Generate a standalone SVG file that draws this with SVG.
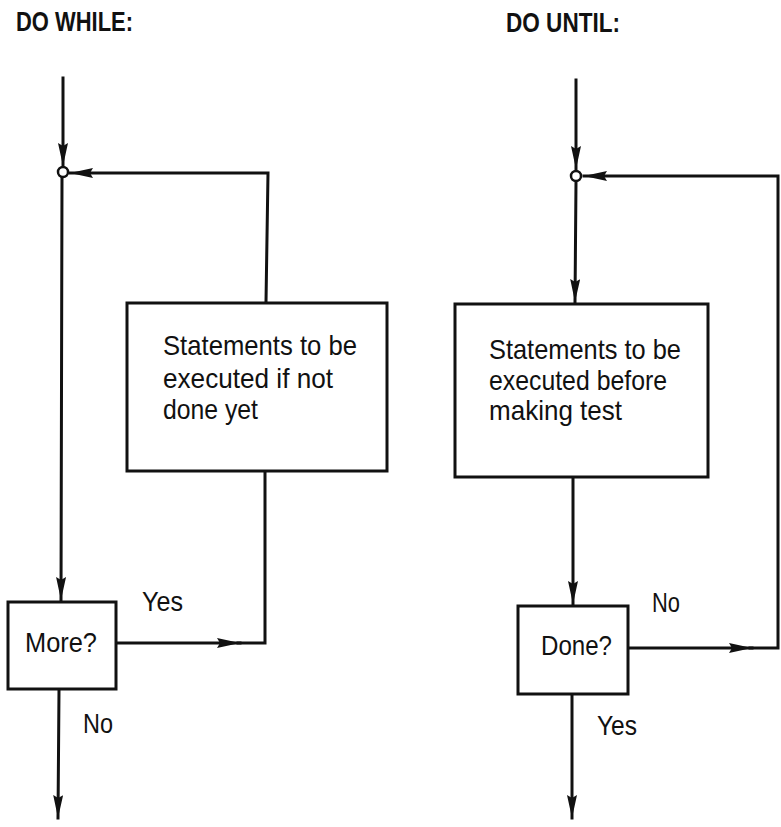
<svg xmlns="http://www.w3.org/2000/svg" width="781" height="827" viewBox="0 0 781 827">
<style>
  .ln { fill: none; stroke: #111; stroke-width: 3; stroke-linecap: square; }
  .box { fill: #fff; stroke: #111; stroke-width: 3; }
  .jn { fill: #fff; stroke: #111; stroke-width: 2.5; }
  .t { font-family: "Liberation Sans", Arial, sans-serif; font-size: 28px; fill: #111; }
  .title { font-family: "Liberation Sans", Arial, sans-serif; font-size: 27px; font-weight: bold; fill: #111; }
</style>
<defs>
  <marker id="arr" markerUnits="userSpaceOnUse" markerWidth="24" markerHeight="10" refX="23" refY="5" orient="auto">
    <path d="M0,0 L23,5 L0,10 L3,5 z" fill="#111"/>
  </marker>
</defs>

<text class="title" x="16" y="31" textLength="117" lengthAdjust="spacingAndGlyphs">DO WHILE:</text>
<text class="title" x="506" y="32" textLength="114" lengthAdjust="spacingAndGlyphs">DO UNTIL:</text>

<g id="connectors">
  <!-- DO WHILE -->
  <line class="ln" x1="63" y1="78" x2="63" y2="166" marker-end="url(#arr)"/>
  <line class="ln" x1="62" y1="178" x2="61" y2="600" marker-end="url(#arr)"/>
  <polyline class="ln" points="266,302 268,173 70,173" marker-end="url(#arr)"/>
  <line class="ln" x1="116" y1="643" x2="240" y2="643" marker-end="url(#arr)"/>
  <polyline class="ln" points="238,643 265,643 265,472"/>
  <line class="ln" x1="59" y1="690" x2="58" y2="818" marker-end="url(#arr)"/>
  <!-- DO UNTIL -->
  <line class="ln" x1="576" y1="80" x2="576" y2="169" marker-end="url(#arr)"/>
  <line class="ln" x1="576" y1="182" x2="575" y2="302" marker-end="url(#arr)"/>
  <line class="ln" x1="573" y1="478" x2="573" y2="604" marker-end="url(#arr)"/>
  <line class="ln" x1="628" y1="648" x2="752" y2="648" marker-end="url(#arr)"/>
  <polyline class="ln" points="750,648 778,648 778,176 584,176" marker-end="url(#arr)"/>
  <line class="ln" x1="572" y1="695" x2="572" y2="818" marker-end="url(#arr)"/>
</g>

<g id="junction-while"><circle class="jn" cx="63" cy="172" r="5"/></g>
<g id="junction-until"><circle class="jn" cx="576" cy="176" r="5"/></g>

<g id="body-while">
  <rect class="box" x="127" y="303" width="260" height="168"/>
  <text class="t" x="163" y="355" textLength="194" lengthAdjust="spacingAndGlyphs">Statements to be</text>
  <text class="t" x="163" y="388" textLength="170" lengthAdjust="spacingAndGlyphs">executed if not</text>
  <text class="t" x="163" y="419" textLength="95" lengthAdjust="spacingAndGlyphs">done yet</text>
</g>

<g id="test-while">
  <rect class="box" x="8" y="602" width="108" height="87"/>
  <text class="t" x="25" y="652" textLength="72" lengthAdjust="spacingAndGlyphs">More?</text>
</g>

<g id="body-until">
  <rect class="box" x="455" y="304" width="253" height="173"/>
  <text class="t" x="489" y="359" textLength="192" lengthAdjust="spacingAndGlyphs">Statements to be</text>
  <text class="t" x="489" y="390" textLength="178" lengthAdjust="spacingAndGlyphs">executed before</text>
  <text class="t" x="489" y="420" textLength="133" lengthAdjust="spacingAndGlyphs">making test</text>
</g>

<g id="test-until">
  <rect class="box" x="518" y="606" width="110" height="88"/>
  <text class="t" x="541" y="655" textLength="71" lengthAdjust="spacingAndGlyphs">Done?</text>
</g>

<g id="labels">
  <text class="t" x="142" y="611" textLength="41" lengthAdjust="spacingAndGlyphs">Yes</text>
  <text class="t" x="83" y="733" textLength="30" lengthAdjust="spacingAndGlyphs">No</text>
  <text class="t" x="652" y="612" textLength="28" lengthAdjust="spacingAndGlyphs">No</text>
  <text class="t" x="597" y="735" textLength="40" lengthAdjust="spacingAndGlyphs">Yes</text>
</g>
</svg>
